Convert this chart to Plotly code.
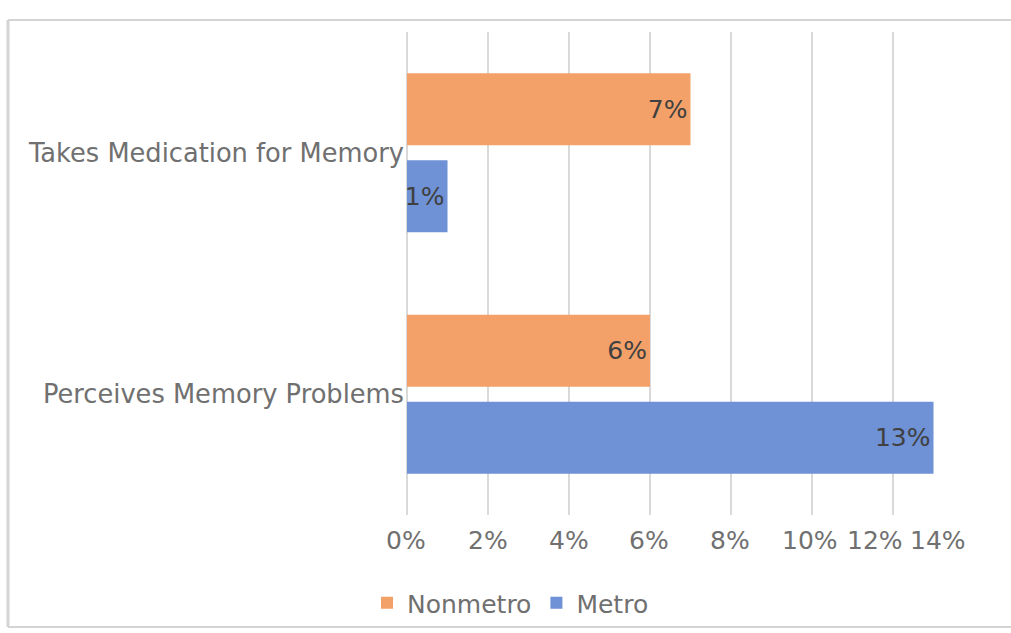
import plotly.graph_objects as go

categories = ["Perceives Memory Problems", "Takes Medication for Memory"]
metro = [13, 1]
nonmetro = [6, 7]
tick_vals = [0, 2, 4, 6, 8, 10, 12, 14]
tick_text = ["0%", "2%", "4%", "6%", "8%", "10%", "12%", "14%"]

FONT = "DejaVu Sans"
ORANGE = "#F4A169"
BLUE = "#6F91D6"
FS = 25
GRAY = "#707070"

fig = go.Figure()
fig.add_trace(go.Bar(
    y=categories, x=metro, name="Metro", orientation="h",
    marker=dict(color=BLUE, line=dict(width=0)),
    text=[f"{v}%" for v in metro], textposition="inside",
    insidetextanchor="end", constraintext="none", textangle=0,
    insidetextfont=dict(family=FONT, size=FS, color="#404040"),
    legendrank=2,
))
fig.add_trace(go.Bar(
    y=categories, x=nonmetro, name="Nonmetro", orientation="h",
    marker=dict(color=ORANGE, line=dict(width=0)),
    text=[f"{v}%" for v in nonmetro], textposition="inside",
    insidetextanchor="end", constraintext="none", textangle=0,
    insidetextfont=dict(family=FONT, size=FS, color="#404040"),
    legendrank=1,
))

W, H = 1011, 633
L, R, T, B = 407, 37, 32, 118
pw, ph = W - L - R, H - T - B

def px(x):
    return (x - L) / pw

def py(y):
    return (H - B - y) / ph

border = "#D4D4D4"
shapes = [
    dict(type="line", xref="paper", yref="paper", x0=px(8), x1=px(1011), y0=py(20), y1=py(20),
         line=dict(color=border, width=2)),
    dict(type="line", xref="paper", yref="paper", x0=px(8), x1=px(8), y0=py(20), y1=py(627),
         line=dict(color=border, width=3)),
    dict(type="line", xref="paper", yref="paper", x0=px(8), x1=px(1011), y0=py(627), y1=py(627),
         line=dict(color=border, width=2)),
]

# x tick labels as annotations (Excel squeezes the last labels leftwards)
label_shift = [-1, 0, 0, -1, -1, -2, -18, -36]
annotations = [
    dict(x=v, y=py(540), xref="x", yref="paper", text=t, showarrow=False,
         xanchor="center", yanchor="middle", xshift=s,
         font=dict(family=FONT, size=FS, color=GRAY))
    for v, t, s in zip(tick_vals, tick_text, label_shift)
]

fig.update_layout(
    width=W, height=H,
    margin=dict(l=L, r=R, t=T, b=B, pad=0, autoexpand=False),
    paper_bgcolor="white", plot_bgcolor="white",
    barmode="group", bargap=0.28, bargroupgap=0.17,
    font=dict(family=FONT, size=FS, color=GRAY),
    xaxis=dict(range=[0, 14], tickmode="array", tickvals=tick_vals, showticklabels=False,
               showgrid=True, gridcolor="#D9D9D9", gridwidth=1.5,
               zeroline=True, zerolinecolor="#D9D9D9", zerolinewidth=1.5,
               showline=False, ticks="", fixedrange=True, automargin=False),
    yaxis=dict(showgrid=False, zeroline=False, showline=False, ticks="", automargin=False,
               tickfont=dict(family=FONT, size=25.7, color=GRAY), ticklabelstandoff=2),
    legend=dict(orientation="h", x=px(367), xanchor="left", y=py(603), yanchor="middle",
                font=dict(family=FONT, size=FS, color=GRAY), itemwidth=30,
                bgcolor="rgba(0,0,0,0)"),
    shapes=shapes,
    annotations=annotations,
    showlegend=True,
)

fig.write_html("out.html")
